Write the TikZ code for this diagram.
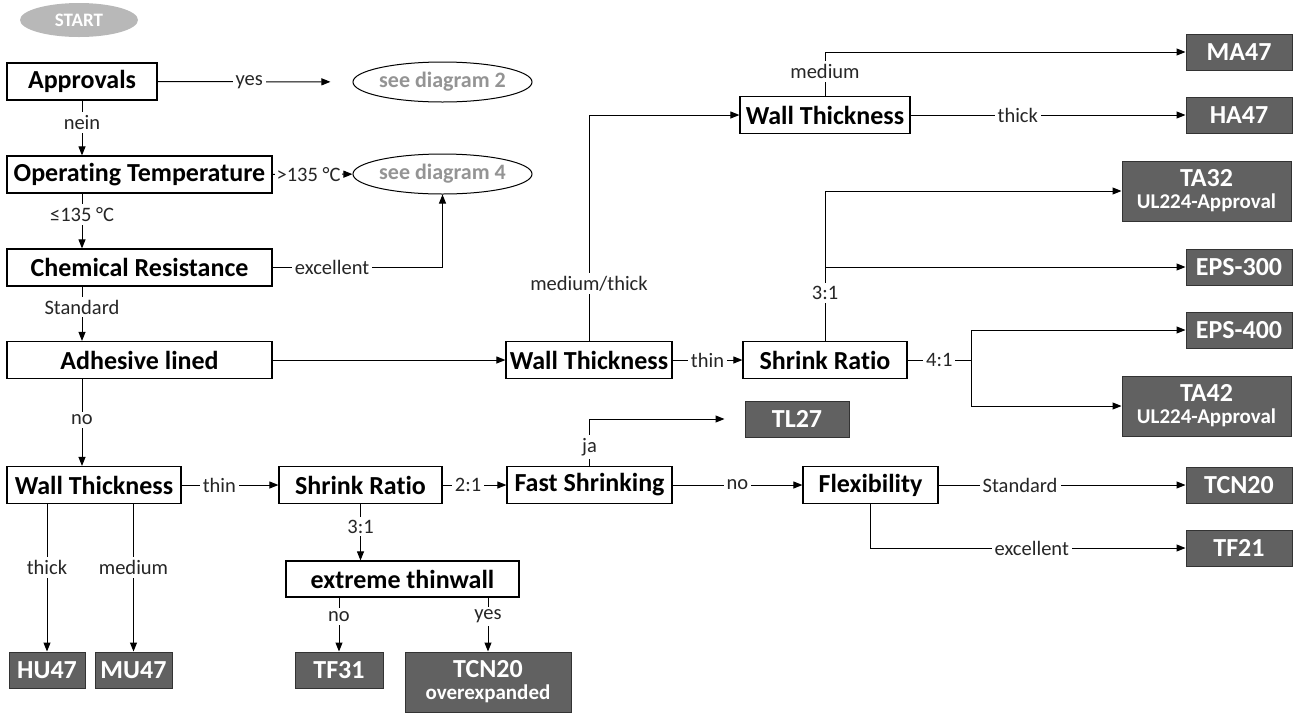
\documentclass[tikz,border=0pt]{standalone}
\usepackage{fontspec}
\setmainfont{Carlito}[Ligatures=NoCommon]
\usetikzlibrary{arrows.meta,shapes.geometric}
\colorlet{gyd}{black!62}
\colorlet{gyb}{black!80}
\colorlet{gyt}{black!42}
\colorlet{gyl}{black!28}
\tikzset{
    quest/.style={draw,line width=1.2pt,fill=white,inner sep=0pt,minimum height=37pt,font=\fontsize{26}{26}\selectfont\bfseries},
    prod/.style={draw=gyb,line width=1pt,fill=gyd,text=white,inner sep=0pt,minimum height=36pt,align=center,font=\fontsize{26}{25}\selectfont\bfseries},
    oval/.style={ellipse,draw,line width=1pt,fill=white,inner sep=0pt,minimum width=151pt,minimum height=40pt,text=gyt,font=\fontsize{22}{22}\selectfont\bfseries},
    lbl/.style={fill=white,inner sep=3pt,text=black!85,font=\fontsize{20.5}{20}\selectfont},
    conn/.style={line width=1pt},
    arr/.style={line width=1pt,-{Triangle[length=9pt,width=7pt]}}
}
\newcommand{\twoline}[2]{#1\\[-3pt]{\fontsize{21}{20}\selectfont #2}}
\begin{document}
\begin{tikzpicture}[x=1pt,y=-1pt]
    \useasboundingbox (0,0) rectangle (1296,713);
    \node[ellipse,fill=gyl,text=white,inner sep=0pt,minimum width=118pt,minimum height=34pt,font=\fontsize{19}{18}\selectfont\bfseries] (start) at (79,20) {START};
    % left column
    \node[quest,minimum width=150pt] (appr) at (82,81.5) {Approvals};
    \node[quest,minimum width=265pt] (optemp) at (139.5,174.5) {Operating Temperature};
    \node[quest,minimum width=265pt] (chem) at (139.5,267.5) {Chemical Resistance};
    \node[quest,minimum width=265pt] (adh) at (139.5,360) {Adhesive lined};
    \node[oval] (diag2) at (442.5,82) {see diagram 2};
    \node[oval] (diag4) at (442.5,174) {see diagram 4};
    % bottom rows
    \node[quest,minimum width=174pt] (wtl) at (94,485) {Wall Thickness};
    \node[quest,minimum width=163pt] (srl) at (360.5,485) {Shrink Ratio};
    \node[quest,minimum width=165pt] (fast) at (589.5,485) {Fast Shrinking};
    \node[quest,minimum width=135pt] (flex) at (870.5,485) {Flexibility};
    \node[quest,minimum width=233pt,minimum height=36pt] (thinw) at (402.5,579) {extreme thinwall};
    \node[prod,minimum width=76pt] (hu47) at (47,670) {HU47};
    \node[prod,minimum width=77pt] (mu47) at (133.5,670) {MU47};
    \node[prod,minimum width=88pt] (tf31) at (339,670) {TF31};
    \node[prod,minimum width=166pt,minimum height=60pt] (tcnov) at (488,682) {\twoline{TCN20}{overexpanded}};
    \node[prod,minimum width=104pt] (tl27) at (797,419) {TL27};
    \node[prod,minimum width=106pt] (tcn20) at (1239,485) {TCN20};
    \node[prod,minimum width=106pt] (tf21) at (1239,548) {TF21};
    % upper right
    \node[quest,minimum width=166pt] (wtm) at (589,360) {Wall Thickness};
    \node[quest,minimum width=164pt] (srm) at (825,360) {Shrink Ratio};
    \node[quest,minimum width=170pt] (wtt) at (825,115) {Wall Thickness};
    \node[prod,minimum width=106pt] (ma47) at (1239,52) {MA47};
    \node[prod,minimum width=106pt] (ha47) at (1239,115) {HA47};
    \node[prod,minimum width=169pt,minimum height=60pt] (ta32) at (1206.5,191) {\twoline{TA32}{UL224-Approval}};
    \node[prod,minimum width=106pt] (eps300) at (1239,267) {EPS-300};
    \node[prod,minimum width=106pt] (eps400) at (1239,330) {EPS-400};
    \node[prod,minimum width=169pt,minimum height=60pt] (ta42) at (1206.5,406) {\twoline{TA42}{UL224-Approval}};
    \coordinate (split) at (971,360);

    \draw[arr,shorten >=22pt] (appr) -- node[lbl,pos=0.47]{yes} (diag2);
    \draw[arr] (appr) -- node[lbl,pos=0.4]{nein} (appr |- optemp.north);
    \draw[arr] (optemp) -- node[lbl,inner sep=2pt,pos=0.45]{>135 °C} (diag4);
    \draw[arr] (appr |- optemp.south) -- node[lbl,pos=0.38]{≤135 °C} (appr |- chem.north);
    \draw[arr] (chem.east) -| node[lbl,pos=0.175]{excellent} (diag4.south);
    \draw[arr] (appr |- chem.south) -- node[lbl,pos=0.38]{Standard} (appr |- adh.north);
    \draw[arr] (adh) -- (wtm);
    \draw[arr] (appr |- adh.south) -- node[lbl,pos=0.47]{no} (appr |- wtl.north);

    \draw[arr] (wtl) -- node[lbl,pos=0.39]{thin} (srl);
    \draw[arr] (srl) -- node[lbl,pos=0.4]{2:1} (fast);
    \draw[arr] (fast) -- node[lbl]{no} (flex);
    \draw[arr] (flex) -- node[lbl,pos=0.33]{Standard} (tcn20);
    \draw[arr] (flex.south) |- node[lbl,pos=0.756]{excellent} (tf21);
    \draw[arr,shorten >=20pt] (fast.north) |- node[lbl,pos=0.2]{ja} (tl27);
    \draw[arr] (hu47 |- wtl.south) -- node[lbl,pos=0.43]{thick} (hu47);
    \draw[arr] (mu47 |- wtl.south) -- node[lbl,pos=0.43]{medium} (mu47);
    \draw[arr] (srl) -- node[lbl,pos=0.4]{3:1} (srl |- thinw.north);
    \draw[arr] (tf31 |- thinw.south) -- node[lbl,pos=0.35]{no} (tf31);
    \draw[arr] (tcnov |- thinw.south) -- node[lbl,pos=0.35]{yes} (tcnov);

    \draw[arr] (wtm.north) |- node[lbl,pos=0.127]{medium/thick} (wtt);
    \draw[arr] (wtt.north) |- node[lbl,pos=0.28]{medium} (ma47);
    \draw[arr] (wtt) -- node[lbl,pos=0.39]{thick} (ha47);
    \draw[arr] (wtm) -- node[lbl]{thin} (srm);
    \draw[arr] (srm.north) |- node[lbl,pos=0.16]{3:1} (ta32);
    \draw[arr] (srm.north |- eps300) -- (eps300);
    \draw[conn] (srm) -- node[lbl]{4:1} (split);
    \draw[arr] (split) |- (eps400);
    \draw[arr] (split) |- (ta42);
\end{tikzpicture}
\end{document}
